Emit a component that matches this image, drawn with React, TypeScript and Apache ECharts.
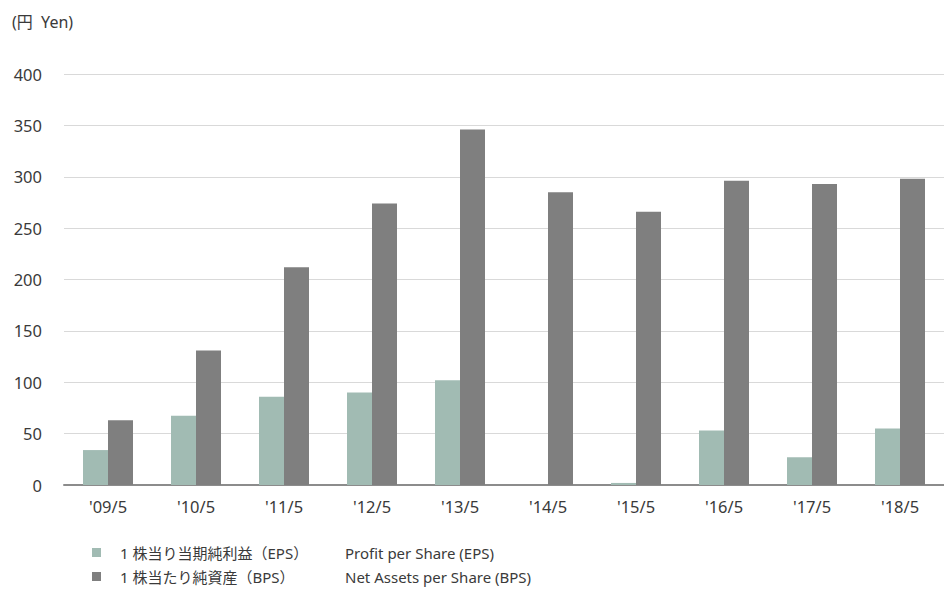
import React, { useEffect, useRef } from "react";
import * as echarts from "echarts";

const categories = ["'09/5", "'10/5", "'11/5", "'12/5", "'13/5", "'14/5", "'15/5", "'16/5", "'17/5", "'18/5"];
const epsValues = [34, 67.5, 86, 90, 102, 0, 2, 53, 27, 55];
const bpsValues = [63, 131, 212, 274, 346, 285, 266, 296, 293, 298];
const seriesNamesJa = ["1 株当り当期純利益（EPS）", "1 株当たり純資産（BPS）"];
const seriesNamesEn = ["Profit per Share (EPS)", "Net Assets per Share (BPS)"];
const yTicks = { min: 0, max: 400, interval: 50 };
const unitLabel = "(円  Yen)";

const FONT = "'Noto Sans', 'Noto Sans CJK JP', sans-serif";
const TEXT = "#3a3a3a";

export default function App() {
  const ref = useRef<HTMLDivElement>(null);
  useEffect(() => {
    if (!ref.current) return;
    const chart = echarts.init(ref.current, null, { renderer: "svg" });
    chart.setOption({
      animation: false,
      backgroundColor: "#ffffff",
      textStyle: { fontFamily: FONT },
      title: {
        text: unitLabel,
        left: 7,
        top: 9,
        textStyle: { fontFamily: FONT, fontSize: 16, fontWeight: "normal", color: TEXT },
      },
      grid: { left: 64, right: 0, top: 74, bottom: 105, containLabel: false },
      legend: {
        orient: "vertical",
        left: 92,
        top: 545,
        padding: 0,
        height: 45,
        itemWidth: 9,
        itemHeight: 9,
        itemGap: 9,
        icon: "rect",
        data: seriesNamesJa,
        formatter: (name: string) => {
          const i = seriesNamesJa.indexOf(name);
          return `{ja|${name}}{en|${seriesNamesEn[i]}}`;
        },
        textStyle: {
          fontFamily: FONT,
          fontSize: 15,
          color: TEXT,
          padding: [0, 0, 0, 14],
          rich: {
            ja: { fontFamily: FONT, fontSize: 15, color: TEXT, width: 225, lineHeight: 18 },
            en: { fontFamily: FONT, fontSize: 15, color: TEXT, lineHeight: 18 },
          },
        },
      },
      xAxis: {
        type: "category",
        data: categories,
        axisLine: { lineStyle: { color: "#8c8c8c", width: 2 } },
        axisTick: { show: false },
        axisLabel: { fontFamily: FONT, fontSize: 16.5, color: TEXT, margin: 13 },
      },
      yAxis: {
        type: "value",
        min: yTicks.min,
        max: yTicks.max,
        interval: yTicks.interval,
        axisLine: { show: false },
        axisTick: { show: false },
        axisLabel: { fontFamily: FONT, fontSize: 16.5, color: TEXT, margin: 22 },
        splitLine: { lineStyle: { color: "#d9d9d9", width: 1 } },
      },
      series: [
        {
          name: seriesNamesJa[0],
          type: "bar",
          data: epsValues,
          barWidth: 25,
          barGap: "0%",
          itemStyle: { color: "#a1bbb3" },
        },
        {
          name: seriesNamesJa[1],
          type: "bar",
          data: bpsValues,
          barWidth: 25,
          barGap: "0%",
          itemStyle: { color: "#7f7f7f" },
        },
      ],
    });
    return () => chart.dispose();
  }, []);
  return (
    <div
      ref={ref}
      style={{ position: "absolute", left: 0, top: 0, width: 944, height: 590 }}
    />
  );
}
